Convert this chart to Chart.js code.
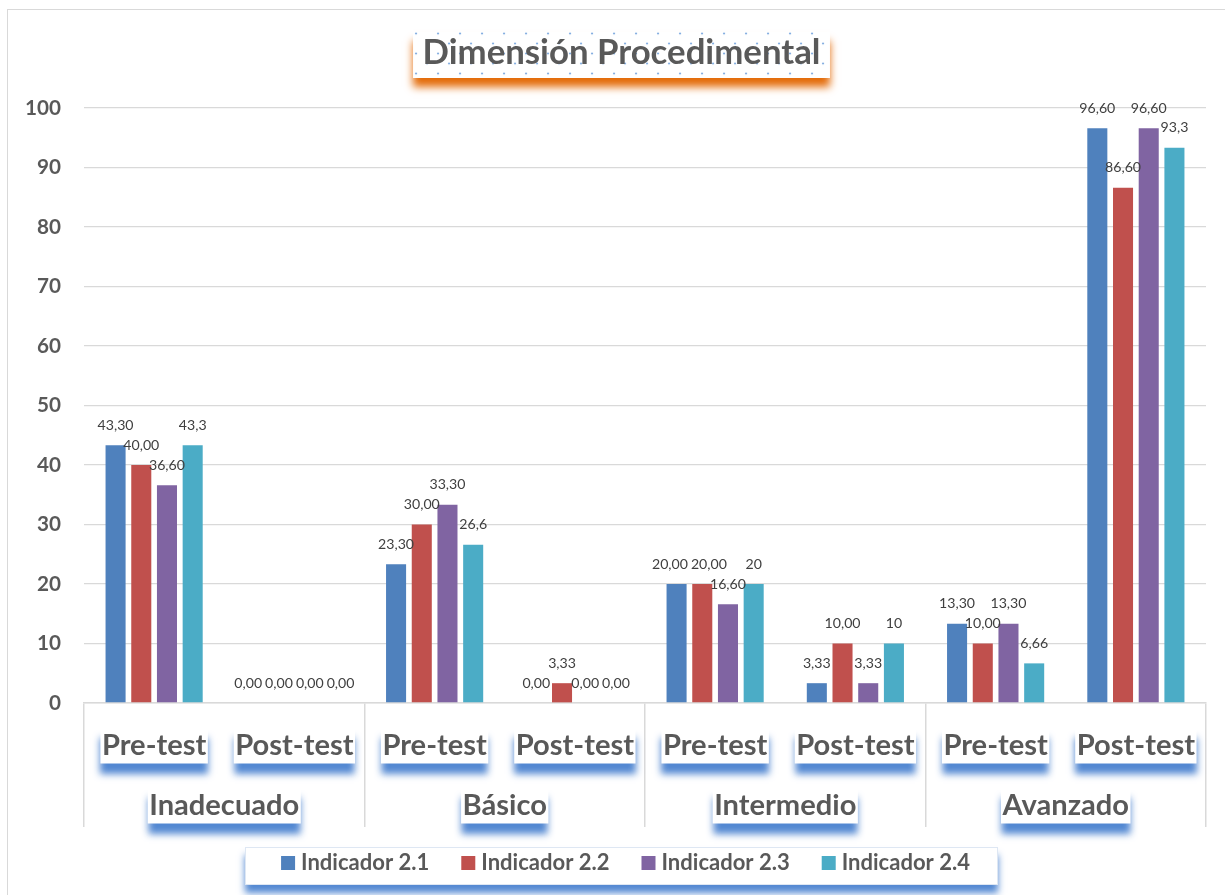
<!DOCTYPE html>
<html>
<head>
<meta charset="utf-8">
<script src="https://cdn.jsdelivr.net/npm/chart.js@4"></script>
<style>
html,body{margin:0;padding:0;background:#fff;}
#wrap{width:1225px;height:895px;position:relative;}
canvas{display:block;}
</style>
</head>
<body>
<div id="wrap"><canvas id="c" width="1225" height="895"></canvas></div>
<script>
// ---------- DATA ----------
const chartTitle = 'Dimensión Procedimental';
const levels = ['Inadecuado', 'Básico', 'Intermedio', 'Avanzado'];
const phases = ['Pre-test', 'Post-test'];
const categories = ['Inadecuado Pre-test','Inadecuado Post-test','Básico Pre-test','Básico Post-test',
                    'Intermedio Pre-test','Intermedio Post-test','Avanzado Pre-test','Avanzado Post-test'];
const seriesNames = ['Indicador 2.1', 'Indicador 2.2', 'Indicador 2.3', 'Indicador 2.4'];
const ind21 = [43.3, 0, 23.3, 0, 20, 3.33, 13.3, 96.6];
const ind22 = [40, 0, 30, 3.33, 20, 10, 10, 86.6];
const ind23 = [36.6, 0, 33.3, 0, 16.6, 3.33, 13.3, 96.6];
const ind24 = [43.3, 0, 26.6, 0, 20, 10, 6.66, 93.3];
const lbl21 = ['43,30','0,00','23,30','0,00','20,00','3,33','13,30','96,60'];
const lbl22 = ['40,00','0,00','30,00','3,33','20,00','10,00','10,00','86,60'];
const lbl23 = ['36,60','0,00','33,30','0,00','16,60','3,33','13,30','96,60'];
const lbl24 = ['43,3','0,00','26,6','0,00','20','10','6,66','93,3'];
const yMin = 0, yMax = 100, yStep = 10;

// ---------- STYLE ----------
const colors = ['#4F81BD', '#C0504D', '#8064A2', '#4BACC6'];
const FONT = 'Lato, "Open Sans", sans-serif';
const TXT = '#595959';
const GRID = '#d9d9d9';

function fit(text, target, weight) {
  const c = document.createElement('canvas').getContext('2d');
  c.font = weight + ' 100px ' + FONT;
  return 100 * target / c.measureText(text).width;
}
const titleSize = fit('Dimensión Procedimental', 398, 'bold');
const catSize = (fit('Pre-test', 102.7, 'bold') + fit('Post-test', 116.7, 'bold') + fit('Intermedio', 146.7, 'bold')) / 3;
const legSize = fit('Indicador 2.1', 128.3, 'bold');
const ySize = fit('100', 36, 'bold');
const dlSize = fit('43,30', 36, 'normal');

function makePattern(ctx) {
  const p = document.createElement('canvas');
  p.width = 22; p.height = 20;
  const g = p.getContext('2d');
  g.fillStyle = 'rgba(110,160,220,0.85)';
  g.beginPath(); g.arc(3, 1.5, 1.1, 0, Math.PI * 2); g.fill();
  g.beginPath(); g.arc(14, 11.5, 1.1, 0, Math.PI * 2); g.fill();
  return ctx.createPattern(p, 'repeat');
}

function shadowBox(ctx, x, y, w, h, color, offY, blur) {
  ctx.save();
  ctx.shadowColor = color;
  ctx.shadowBlur = blur;
  ctx.shadowOffsetY = offY;
  ctx.fillStyle = '#fff';
  ctx.fillRect(x, y, w, h);
  ctx.restore();
}

// spread apart data labels of one category that would overlap each other
function resolveOverlaps(items) {
  const gap = 3, lineH = 13;
  for (let iter = 0; iter < 20; iter++) {
    let moved = false;
    items.sort((a, b) => a.x - b.x);
    for (let i = 0; i < items.length; i++) {
      for (let j = i + 1; j < items.length; j++) {
        const a = items[i], b = items[j];
        if (Math.abs(a.y - b.y) >= lineH) continue;
        const need = (a.w + b.w) / 2 + gap;
        const d = b.x - a.x;
        if (d < need) {
          const push = (need - d) / 2;
          a.x -= push; b.x += push; moved = true;
        }
      }
    }
    if (!moved) break;
  }
}

const decor = {
  id: 'decor',
  beforeDraw(chart) {
    const ctx = chart.ctx;
    ctx.save();
    ctx.fillStyle = '#fff';
    ctx.fillRect(0, 0, chart.width, chart.height);
    ctx.strokeStyle = GRID;
    ctx.lineWidth = 1;
    ctx.strokeRect(7.5, 9.5, chart.width + 50, chart.height + 50);
    ctx.restore();
  },
  afterDatasetsDraw(chart) {
    const ctx = chart.ctx;
    const lbls = [lbl21, lbl22, lbl23, lbl24];
    ctx.save();
    ctx.font = 'normal ' + dlSize + 'px ' + FONT;
    ctx.fillStyle = '#404040';
    ctx.textAlign = 'center';
    ctx.textBaseline = 'middle';
    const n = chart.data.labels.length;
    for (let i = 0; i < n; i++) {
      const items = [];
      chart.data.datasets.forEach((ds, di) => {
        const bar = chart.getDatasetMeta(di).data[i];
        const t = lbls[di][i];
        items.push({ t, x: bar.x, y: bar.y - 20, w: ctx.measureText(t).width });
      });
      resolveOverlaps(items);
      items.forEach(it => ctx.fillText(it.t, it.x, it.y));
    }
    ctx.restore();
  },
  afterDraw(chart) {
    const ctx = chart.ctx;
    const xs = chart.scales.x;
    const ca = chart.chartArea;
    ctx.save();
    // ---- title ----
    ctx.font = 'bold ' + titleSize + 'px ' + FONT;
    const tw = ctx.measureText(chartTitle).width;
    const tcx = 621.5, tBase = 64;
    const bx = tcx - tw / 2 - 9.5, by = tBase - 32, bw = tw + 19, bh = 46;
    shadowBox(ctx, bx, by, bw, bh, 'rgba(228,108,10,1)', 9, 8);
    ctx.fillStyle = makePattern(ctx);
    ctx.save();
    ctx.translate(bx, by);
    ctx.fillRect(0, 0, bw, bh);
    ctx.restore();
    ctx.fillStyle = TXT;
    ctx.textAlign = 'center';
    ctx.textBaseline = 'alphabetic';
    ctx.fillText(chartTitle, tcx, tBase);

    // ---- category labels ----
    ctx.font = 'bold ' + catSize + 'px ' + FONT;
    const drawCat = (text, cx, base) => {
      const w = ctx.measureText(text).width;
      shadowBox(ctx, cx - w / 2 - 1.5, base - 27, w + 3, 35.5, 'rgba(74,130,208,0.95)', 10, 7);
      ctx.fillStyle = TXT;
      ctx.fillText(text, cx, base);
    };
    categories.forEach((c, i) => {
      drawCat(phases[i % 2], xs.getPixelForValue(i), ca.bottom + 52);
    });
    levels.forEach((lv, k) => {
      const cx = (xs.getPixelForValue(2 * k) + xs.getPixelForValue(2 * k + 1)) / 2;
      drawCat(lv, cx, ca.bottom + 112);
    });

    // ---- legend ----
    ctx.font = 'bold ' + legSize + 'px ' + FONT;
    const lx = 245, ly = 847, lw = 753, lh = 38;
    shadowBox(ctx, lx, ly, lw, lh, 'rgba(74,130,208,0.95)', 8, 7);
    ctx.strokeStyle = 'rgba(200,215,235,0.6)';
    ctx.lineWidth = 1;
    ctx.strokeRect(lx + 0.5, ly + 0.5, lw - 1, lh - 1);
    const box = 14, gapTxt = 6, gapItem = 32;
    const widths = seriesNames.map(s => box + gapTxt + ctx.measureText(s).width);
    const total = widths.reduce((a, b) => a + b, 0) + gapItem * (seriesNames.length - 1);
    let x = lx + lw / 2 + 4 - total / 2;
    ctx.textAlign = 'left';
    seriesNames.forEach((s, i) => {
      ctx.fillStyle = colors[i];
      ctx.fillRect(x, 856, box, box);
      ctx.fillStyle = TXT;
      ctx.fillText(s, x + box + gapTxt, 869.5);
      x += widths[i] + gapItem;
    });
    ctx.restore();
  }
};

const datasets = [ind21, ind22, ind23, ind24].map((d, i) => ({
  label: seriesNames[i],
  data: d,
  backgroundColor: colors[i],
  borderWidth: 0
}));

new Chart(document.getElementById('c'), {
  type: 'bar',
  data: { labels: categories, datasets },
  options: {
    responsive: false,
    animation: false,
    devicePixelRatio: 1,
    layout: { padding: { top: 108, right: 19, bottom: 0, left: 0 } },
    datasets: { bar: { categoryPercentage: 0.733, barPercentage: 0.78 } },
    plugins: { legend: { display: false }, title: { display: false }, tooltip: { enabled: false } },
    scales: {
      x: {
        offset: true,
        ticks: { display: false },
        grid: {
          offset: true,
          drawOnChartArea: false,
          drawTicks: true,
          tickLength: 124,
          lineWidth: 1.5,
          tickColor: c => (c.index === undefined || c.index % 2 === 0) ? GRID : 'rgba(0,0,0,0)'
        },
        border: { display: true, color: GRID, width: 1.5 },
        afterFit: s => { s.height = 192; }
      },
      y: {
        min: yMin, max: yMax,
        ticks: { stepSize: yStep, padding: 23, color: TXT, font: { family: FONT, weight: 'bold', size: ySize } },
        grid: { color: GRID, lineWidth: 1.3, drawTicks: false },
        border: { display: false },
        afterFit: s => { s.width = 84; }
      }
    }
  },
  plugins: [decor]
});
</script>
</body>
</html>
